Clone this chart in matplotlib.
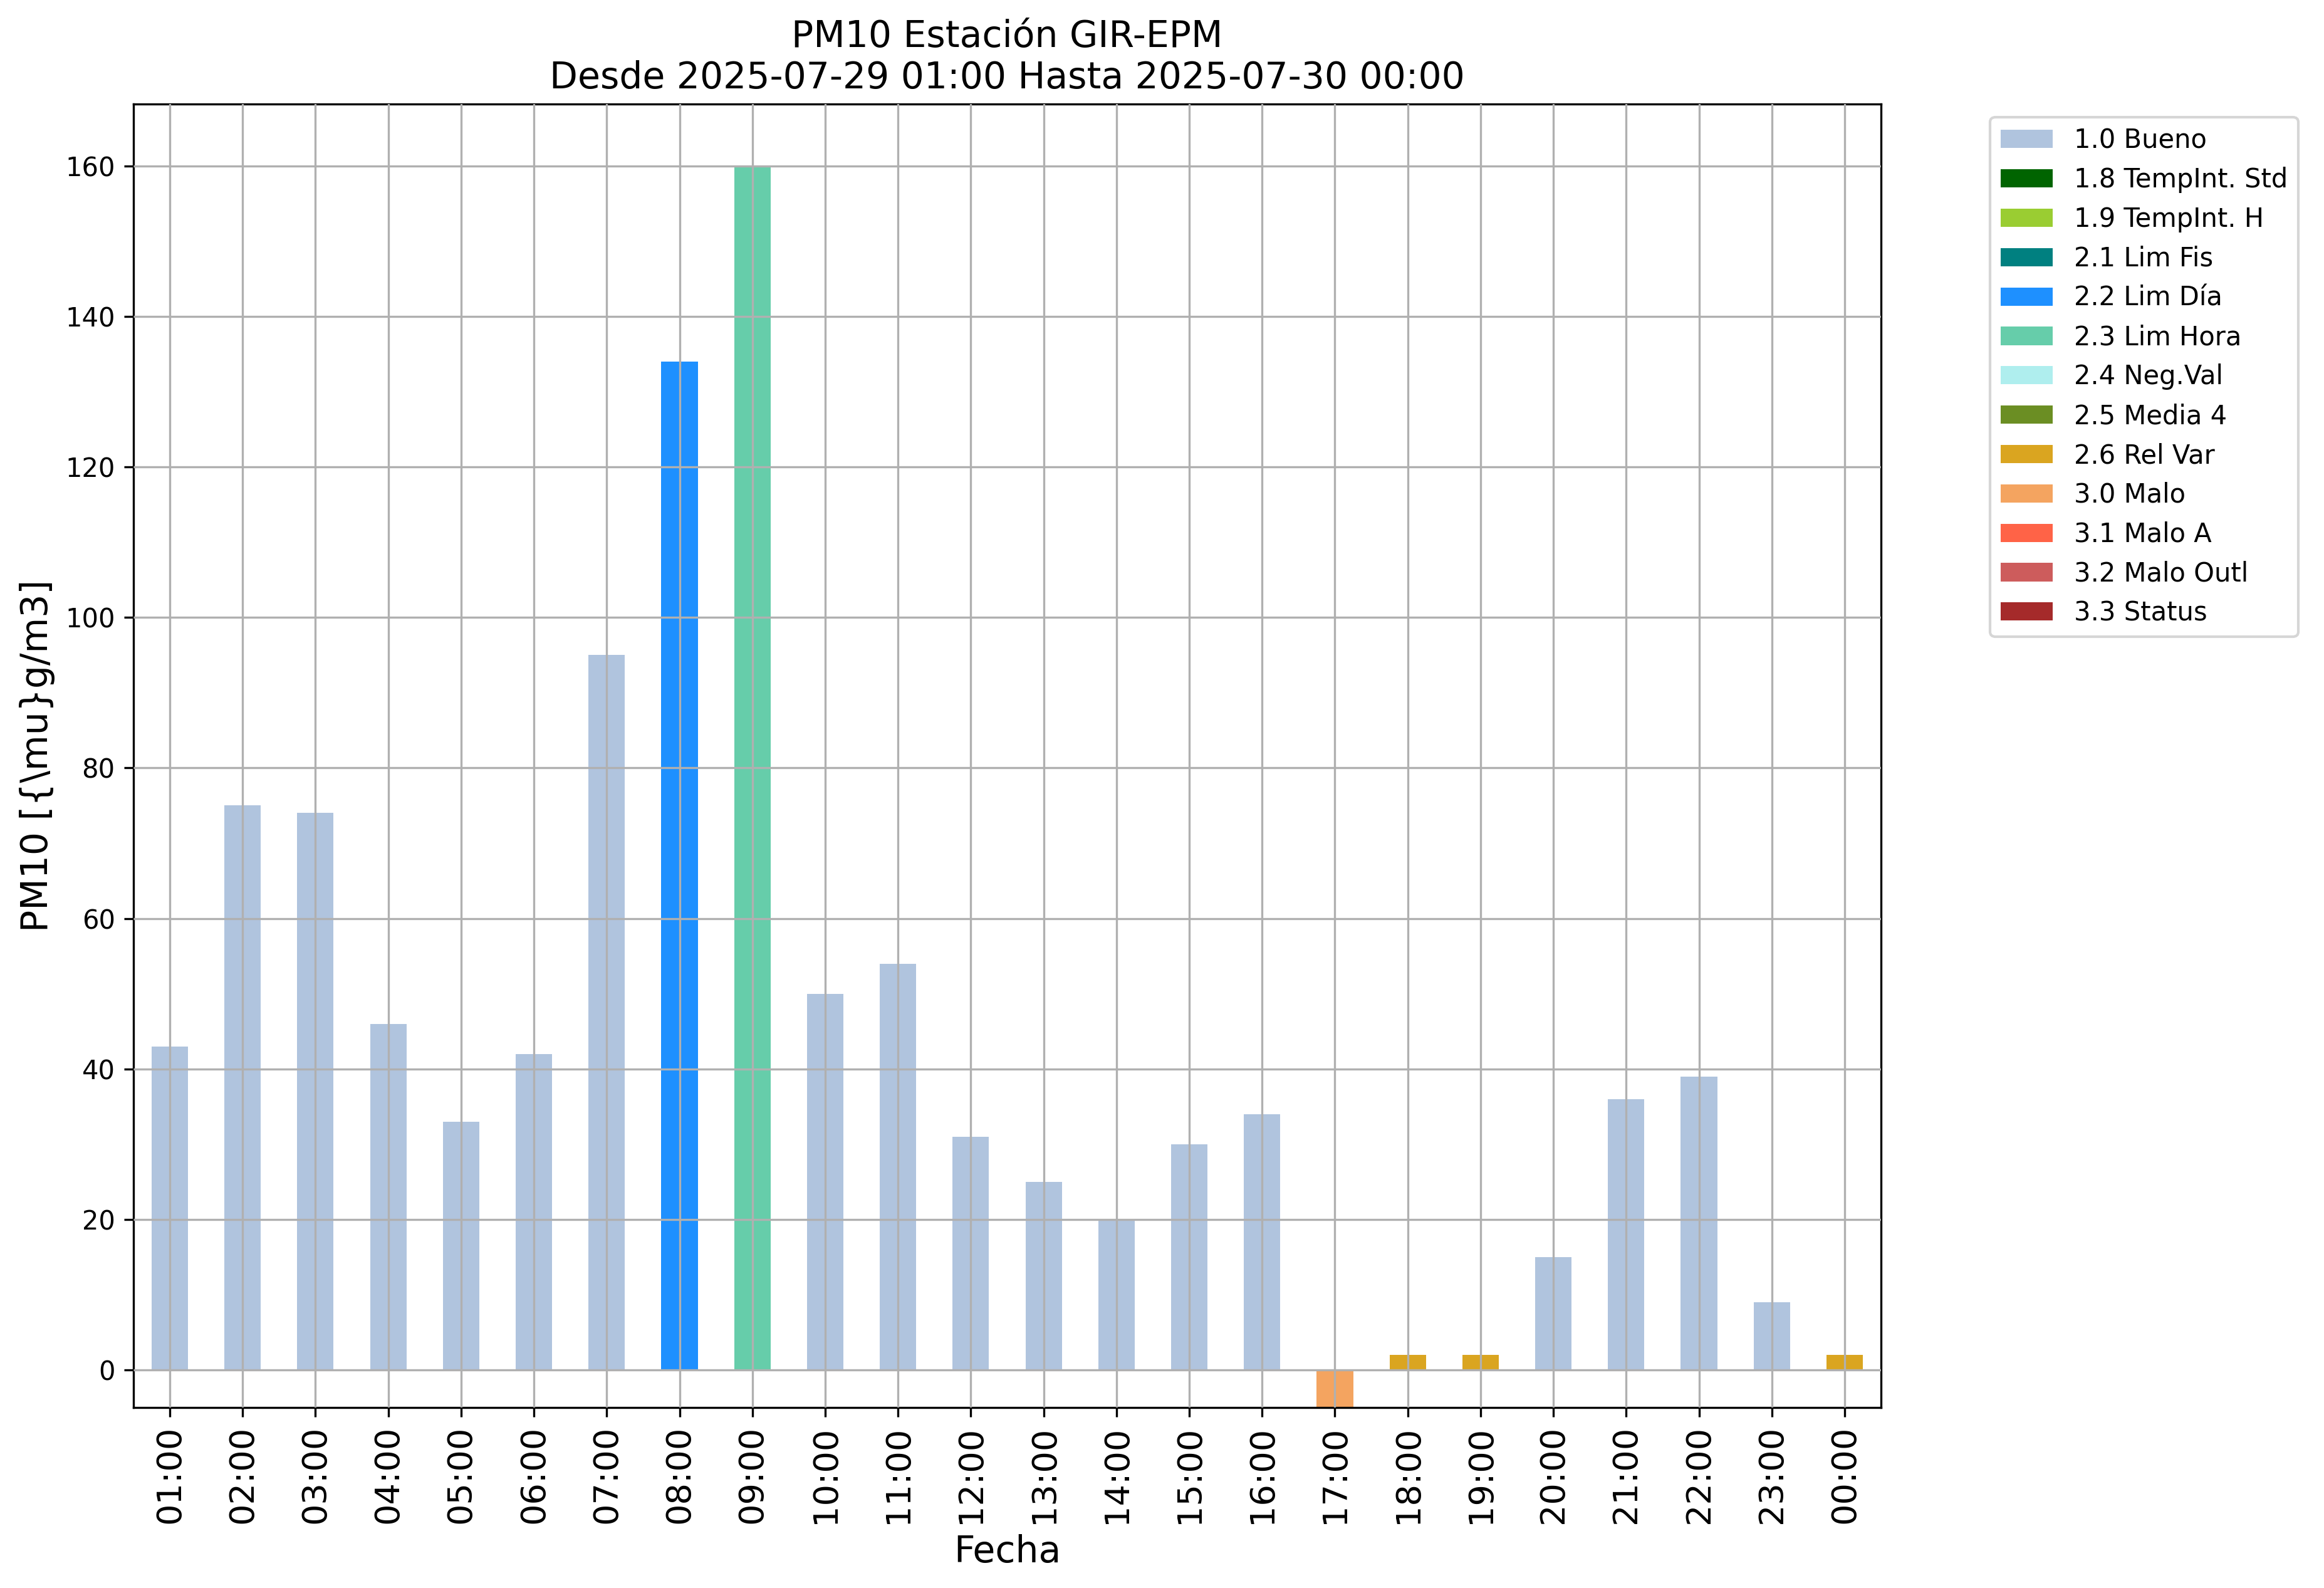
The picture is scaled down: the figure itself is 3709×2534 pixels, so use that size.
import matplotlib
matplotlib.use("Agg")
import matplotlib.pyplot as plt
from matplotlib.patches import Patch

# horas y valores de PM10
horas = ['01:00', '02:00', '03:00', '04:00', '05:00', '06:00', '07:00', '08:00',
         '09:00', '10:00', '11:00', '12:00', '13:00', '14:00', '15:00', '16:00',
         '17:00', '18:00', '19:00', '20:00', '21:00', '22:00', '23:00', '00:00']
valores = [43, 75, 74, 46, 33, 42, 95, 134, 160, 50, 54, 31, 25, 20, 30, 34,
           -5, 2, 2, 15, 36, 39, 9, 2]
banderas = ['1.0 Bueno'] * 7 + ['2.2 Lim Día', '2.3 Lim Hora'] + ['1.0 Bueno'] * 7 + \
           ['3.0 Malo', '2.6 Rel Var', '2.6 Rel Var'] + ['1.0 Bueno'] * 4 + ['2.6 Rel Var']

# categorias de calidad del dato
categorias = ['1.0 Bueno', '1.8 TempInt. Std', '1.9 TempInt. H', '2.1 Lim Fis',
              '2.2 Lim Día', '2.3 Lim Hora', '2.4 Neg.Val', '2.5 Media 4',
              '2.6 Rel Var', '3.0 Malo', '3.1 Malo A', '3.2 Malo Outl', '3.3 Status']
colores = ['lightsteelblue', 'darkgreen', 'yellowgreen', 'teal', 'dodgerblue',
           'mediumaquamarine', 'paleturquoise', 'olivedrab', 'goldenrod',
           'sandybrown', 'tomato', 'indianred', 'brown']
color_de = dict(zip(categorias, colores))

fig = plt.figure(figsize=(3709 / 300, 2534 / 300), dpi=300)
ax = fig.add_axes([0.0574, 0.1137, 0.752, 0.8208])

x = list(range(len(horas)))
ax.bar(x, valores, width=0.5, color=[color_de[b] for b in banderas])

ax.set_xlim(-0.5, len(horas) - 0.5)
ax.set_ylim(-5, 168.25)
ax.set_xticks(x)
ax.set_xticklabels(horas, rotation=90, fontsize=13)
ax.tick_params(axis='y', labelsize=10)
ax.set_axisbelow(False)
ax.grid(True)

ax.set_title('PM10 Estación GIR-EPM\nDesde 2025-07-29 01:00 Hasta 2025-07-30 00:00', fontsize=14)
ax.set_xlabel('Fecha', fontsize=14)
ax.set_ylabel(r'PM10 [{\mu}g/m3]', fontsize=14)

handles = [Patch(facecolor=c, label=l) for l, c in zip(categorias, colores)]
ax.legend(handles=handles, loc='upper left', bbox_to_anchor=(1.055, 1), fontsize=10)

fig.savefig('out.png', dpi=300)
